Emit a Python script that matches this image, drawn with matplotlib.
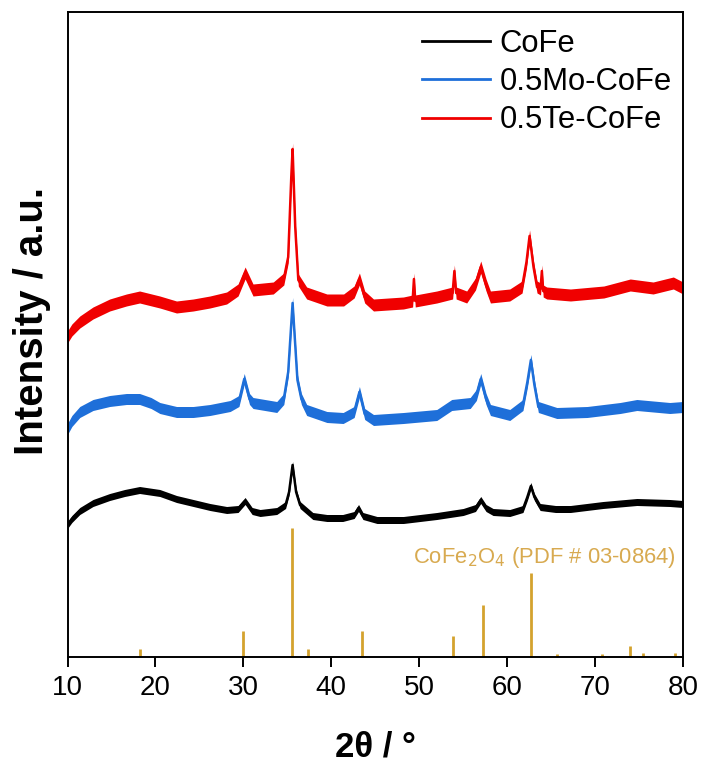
import matplotlib
matplotlib.use("Agg")
import matplotlib.pyplot as plt
import numpy as np

plt.rcParams['font.family'] = ['Liberation Sans', 'DejaVu Sans']

# ---- data (intensity in arbitrary units, offset stacked) ----
cofe_x = [10.0, 10.5, 11.4, 12.9, 14.8, 16.5, 18.2, 20.5, 22.4, 24.3, 26.2, 28.1, 29.4, 30.2, 31.0,
          31.9, 33.8, 34.8, 35.2, 35.6, 36.0, 36.45, 37.9, 39.5, 41.3, 42.6, 43.1, 43.6, 45.2, 48.2,
          52.0, 55.0, 56.4, 57.0, 57.6, 58.4, 60.3, 61.8, 62.3, 62.7, 63.1, 63.75, 65.5, 67.2, 70.9,
          74.75, 78.5, 80.0]
cofe_y = [132, 138, 146, 154, 160, 164, 167, 164, 158, 154, 150, 147, 148, 156, 146,
          144, 146, 152, 165, 192, 165, 152, 141, 139, 139, 142, 149, 141, 137, 137,
          141, 145, 149, 157, 149, 145, 144, 148, 160, 171, 160, 150, 148, 148, 152,
          155, 154, 153]

mo_x = [10.0, 10.5, 11.4, 12.9, 14.8, 16.7, 18.2, 19.5, 20.5, 22.4, 24.3, 26.2, 28.5, 29.5, 30.1,
        30.7, 31.1, 33.8, 34.6, 35.1, 35.6, 36.15, 36.6, 37.2, 39.5, 41.35, 42.6, 43.2, 43.8, 44.8,
        48.2, 52.0, 53.7, 55.8, 56.5, 57.0, 57.6, 58.1, 60.3, 61.8, 62.3, 62.7, 63.1, 63.55, 65.65,
        69.1, 72.85, 74.75, 78.5, 80.0]
mo_y = [228, 236, 245, 252, 256, 258, 258, 254, 249, 245, 245, 247, 251, 256, 278,
        258, 254, 250, 258, 285, 354, 277, 258, 247, 240, 239, 245, 265, 243, 237,
        239, 242, 252, 254, 262, 278, 258, 247, 242, 252, 275, 297, 272, 250, 244,
        245, 249, 252, 249, 250]

te_x = [10.0, 10.5, 11.4, 12.9, 14.8, 16.7, 18.2, 20.5, 22.4, 24.3, 26.2, 28.1, 29.4, 30.2, 31.1,
        33.4, 34.6, 35.1, 35.45, 35.6, 35.9, 36.25, 37.2, 39.5, 41.4, 42.6, 43.2, 43.8, 44.8, 48.2,
        49.25, 49.4, 49.55, 52.0, 53.8, 54.0, 54.2, 55.4, 56.4, 57.0, 57.6, 58.1, 60.3, 61.7, 62.2,
        62.55, 63.0, 63.4, 63.8, 63.95, 64.1, 64.5, 67.2, 71.0, 74.0, 76.6, 78.9, 80.0]
te_y = [320, 327, 335, 344, 352, 357, 360, 355, 350, 352, 355, 359, 367, 384, 367,
        369, 378, 400, 480, 508, 430, 377, 364, 357, 357, 365, 378, 360, 352, 354,
        356, 378, 356, 360, 364, 386, 364, 360, 373, 390, 372, 360, 362, 370, 395,
        421, 390, 370, 368, 386, 366, 364, 362, 365, 372, 369, 374, 369]

# reference pattern CoFe2O4 (PDF # 03-0864)
ref_x = [18.3, 30.0, 35.5, 37.4, 43.5, 53.8, 57.2, 62.7, 65.7, 70.8, 74.0, 75.4, 79.1]
ref_h = [8, 26, 129, 8, 26, 21, 52, 84, 3, 3, 11, 4, 4]

series_labels = ['CoFe', '0.5Mo-CoFe', '0.5Te-CoFe']
xticks = [10, 20, 30, 40, 50, 60, 70, 80]

# ---- styling ----
colors = ['#000000', '#1E6FD9', '#F00000']
band = [3.5, 5.5, 6.0]
stick_color = '#D4A22E'
text_color = '#D8AA50'

fig = plt.figure(figsize=(7.02, 7.64), dpi=100)
ax = fig.add_axes([67.5 / 702, 107 / 764, 615.5 / 702, 645 / 764])

for xs, ys, c, hw, lab in zip([cofe_x, mo_x, te_x], [cofe_y, mo_y, te_y], colors, band, series_labels):
    xs = np.asarray(xs, float)
    ys = np.asarray(ys, float)
    ax.fill_between(xs, ys - hw, ys + hw, color=c, lw=0)
    ax.plot(xs, ys, color=c, lw=1.8)
    ax.plot([], [], color=c, lw=2.0, label=lab)

ax.vlines(ref_x, 0, ref_h, color=stick_color, lw=2.0)

ax.text(0.9886, 100, r'CoFe$_2$O$_4$ (PDF # 03-0864)', transform=ax.get_yaxis_transform(),
        ha='right', va='center', color=text_color, fontsize=15.8)

ax.set_xlim(10, 80)
ax.set_ylim(0, 645)
ax.set_xticks(xticks)
ax.set_xticklabels([str(t) for t in xticks])
ax.set_yticks([])
ax.tick_params(axis='x', direction='out', length=7, width=1.4, labelsize=20, pad=6)
for s in ax.spines.values():
    s.set_linewidth(1.4)

ax.set_xlabel('2θ / °', fontsize=25, fontweight='bold', labelpad=21)
ax.set_ylabel('Intensity / a.u.', fontsize=29, fontweight='bold')
ax.yaxis.set_label_coords(-0.026, 0.521)

leg = ax.legend(loc='upper left', bbox_to_anchor=(0.546, 1.003), frameon=False, fontsize=22.3,
                handlelength=2.2, handletextpad=0.3, labelspacing=0.27, borderaxespad=0.2)

fig.savefig('out.png', dpi=100)
